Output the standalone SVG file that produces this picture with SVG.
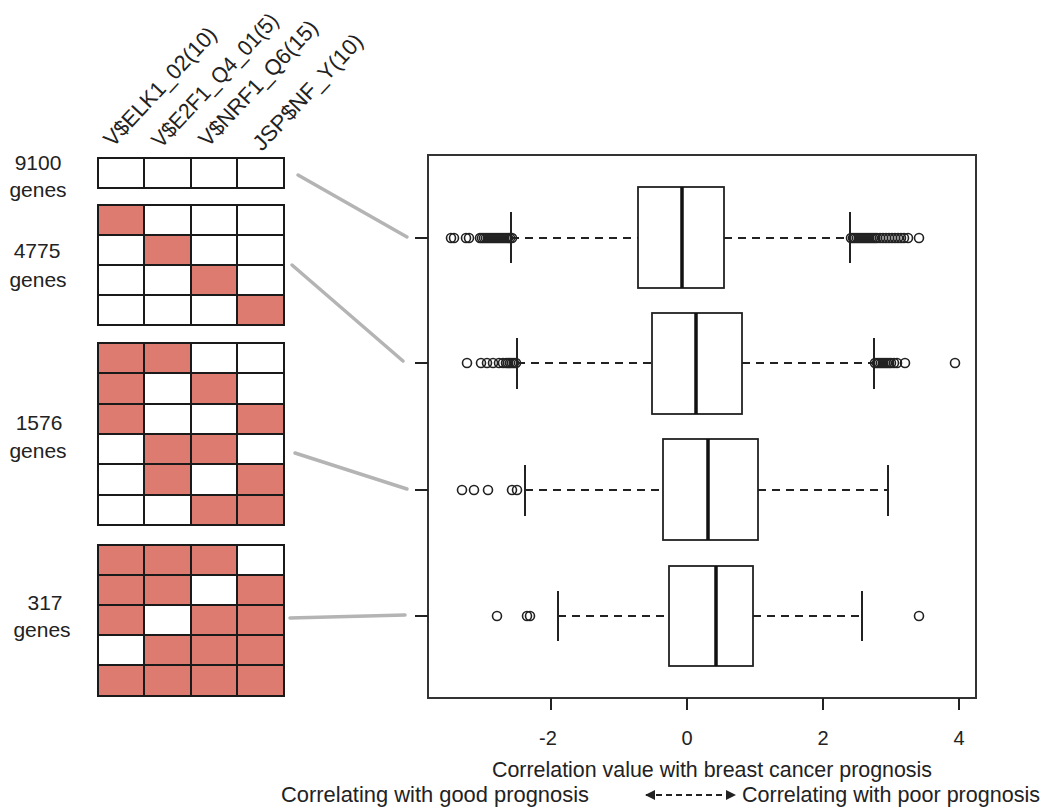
<svg xmlns="http://www.w3.org/2000/svg" width="1052" height="810" viewBox="0 0 1052 810">
<style>
text{font-family:"Liberation Sans",Arial,sans-serif;fill:#222}
.lab{font-size:21px;text-anchor:middle}
.col{font-size:22px}
.on{fill:#DE7B70}
.grid{fill:none;stroke:#1a1a1a;stroke-width:2}
.conn{stroke:#b4b4b4;stroke-width:3.5;stroke-linecap:round;fill:none}
.frame{fill:none;stroke:#333;stroke-width:2}
.box{fill:#fff;stroke:#222;stroke-width:1.8}
.med{stroke:#111;stroke-width:3.5}
.wh{stroke:#222;stroke-width:2;stroke-dasharray:8 6}
.cap{stroke:#222;stroke-width:2}
.o{fill:none;stroke:#222;stroke-width:1.6}
.tick{stroke:#222;stroke-width:2}
.ax{font-size:20px;text-anchor:middle}
.cap2{font-size:22px}
</style>
<defs>
<marker id="ah" viewBox="0 0 10 10" refX="9" refY="5" markerWidth="10" markerHeight="10" markerUnits="userSpaceOnUse" orient="auto-start-reverse">
<path d="M0,0 L10,5 L0,10 z" fill="#222"/>
</marker>
</defs>
<rect width="1052" height="810" fill="#fff"/>

<g id="column-labels">
<text class="col" transform="translate(113,148) rotate(-47)" textLength="154" lengthAdjust="spacingAndGlyphs">V$ELK1_02(10)</text>
<text class="col" transform="translate(161,149) rotate(-47)" textLength="174" lengthAdjust="spacingAndGlyphs">V$E2F1_Q4_01(5)</text>
<text class="col" transform="translate(208,148) rotate(-47)" textLength="163" lengthAdjust="spacingAndGlyphs">V$NRF1_Q6(15)</text>
<text class="col" transform="translate(262,152) rotate(-47)" textLength="150" lengthAdjust="spacingAndGlyphs">JSP$NF_Y(10)</text>
</g>

<g id="block-9100">
<text class="lab" x="38" y="170">9100</text>
<text class="lab" x="38" y="197">genes</text>
<rect class="grid" x="98" y="158" width="186" height="30"/>
<path class="grid" d="M144,158V188M191,158V188M237,158V188"/>
</g>

<g id="block-4775">
<text class="lab" x="37" y="258">4775</text>
<text class="lab" x="38" y="287">genes</text>
<rect class="on" x="98" y="205" width="46" height="30"/>
<rect class="on" x="144" y="235" width="47" height="30"/>
<rect class="on" x="191" y="265" width="46" height="30"/>
<rect class="on" x="237" y="295" width="47" height="30"/>
<rect class="grid" x="98" y="205" width="186" height="120"/>
<path class="grid" d="M144,205V325M191,205V325M237,205V325M98,235H284M98,265H284M98,295H284"/>
</g>

<g id="block-1576">
<text class="lab" x="39" y="430">1576</text>
<text class="lab" x="38" y="458">genes</text>
<rect class="on" x="98" y="343" width="93" height="30"/>
<rect class="on" x="98" y="373" width="46" height="61"/>
<rect class="on" x="191" y="373" width="46" height="31"/>
<rect class="on" x="237" y="404" width="47" height="30"/>
<rect class="on" x="144" y="434" width="93" height="30"/>
<rect class="on" x="144" y="464" width="47" height="31"/>
<rect class="on" x="237" y="464" width="47" height="31"/>
<rect class="on" x="191" y="495" width="93" height="30"/>
<rect class="grid" x="98" y="343" width="186" height="182"/>
<path class="grid" d="M144,343V525M191,343V525M237,343V525M98,373H284M98,404H284M98,434H284M98,464H284M98,495H284"/>
</g>

<g id="block-317">
<text class="lab" x="45" y="610">317</text>
<text class="lab" x="42" y="637">genes</text>
<rect class="on" x="98" y="545" width="186" height="151"/>
<rect fill="#fff" x="237" y="545" width="47" height="30"/>
<rect fill="#fff" x="191" y="575" width="46" height="30"/>
<rect fill="#fff" x="144" y="605" width="47" height="30"/>
<rect fill="#fff" x="98" y="635" width="46" height="30"/>
<rect class="grid" x="98" y="545" width="186" height="151"/>
<path class="grid" d="M144,545V696M191,545V696M237,545V696M98,575H284M98,605H284M98,635H284M98,665H284"/>
</g>

<g id="connectors">
<line class="conn" x1="298" y1="175" x2="407" y2="237"/>
<line class="conn" x1="292" y1="265" x2="403" y2="361"/>
<line class="conn" x1="295" y1="453" x2="407" y2="489"/>
<line class="conn" x1="290" y1="618" x2="405" y2="615"/>
</g>

<g id="boxplot">
<rect class="frame" x="428" y="155" width="548" height="543"/>
<path class="tick" d="M415,238H428M415,363H428M415,490H428M415,616H428"/>
<path class="tick" d="M551,698V710M687,698V710M823,698V710M959,698V710"/>
<text class="ax" x="548" y="745">-2</text>
<text class="ax" x="687" y="745">0</text>
<text class="ax" x="823" y="745">2</text>
<text class="ax" x="959" y="745">4</text>

<!-- box 1 -->
<line class="wh" x1="511" y1="238" x2="638" y2="238"/>
<line class="wh" x1="724" y1="238" x2="850" y2="238"/>
<line class="cap" x1="511" y1="212" x2="511" y2="263"/>
<line class="cap" x1="850" y1="212" x2="850" y2="263"/>
<rect class="box" x="638" y="187" width="86" height="101"/>
<line class="med" x1="682" y1="187" x2="682" y2="288"/>
<g class="o">
<circle cx="451" cy="238" r="4.5"/><circle cx="454" cy="238" r="4.5"/>
<circle cx="466" cy="238" r="4.5"/><circle cx="469" cy="238" r="4.5"/>
<circle cx="480" cy="238" r="4.5"/><circle cx="482" cy="238" r="4.5"/><circle cx="484" cy="238" r="4.5"/><circle cx="486" cy="238" r="4.5"/><circle cx="488" cy="238" r="4.5"/><circle cx="490" cy="238" r="4.5"/><circle cx="492" cy="238" r="4.5"/><circle cx="494" cy="238" r="4.5"/><circle cx="496" cy="238" r="4.5"/><circle cx="498" cy="238" r="4.5"/><circle cx="500" cy="238" r="4.5"/><circle cx="502" cy="238" r="4.5"/><circle cx="504" cy="238" r="4.5"/><circle cx="506" cy="238" r="4.5"/><circle cx="508" cy="238" r="4.5"/><circle cx="510" cy="238" r="4.5"/><circle cx="512" cy="238" r="4.5"/>
<circle cx="851" cy="238" r="4.5"/><circle cx="853" cy="238" r="4.5"/><circle cx="855" cy="238" r="4.5"/><circle cx="857" cy="238" r="4.5"/><circle cx="859" cy="238" r="4.5"/><circle cx="861" cy="238" r="4.5"/><circle cx="863" cy="238" r="4.5"/><circle cx="865" cy="238" r="4.5"/><circle cx="867" cy="238" r="4.5"/><circle cx="869" cy="238" r="4.5"/><circle cx="871" cy="238" r="4.5"/><circle cx="873" cy="238" r="4.5"/><circle cx="875" cy="238" r="4.5"/><circle cx="877" cy="238" r="4.5"/><circle cx="880" cy="238" r="4.5"/><circle cx="883" cy="238" r="4.5"/><circle cx="886" cy="238" r="4.5"/><circle cx="889" cy="238" r="4.5"/><circle cx="892" cy="238" r="4.5"/><circle cx="895" cy="238" r="4.5"/><circle cx="898" cy="238" r="4.5"/><circle cx="901" cy="238" r="4.5"/><circle cx="904" cy="238" r="4.5"/><circle cx="908" cy="238" r="4.5"/><circle cx="919" cy="238" r="4.5"/>
</g>

<!-- box 2 -->
<line class="wh" x1="517" y1="363" x2="652" y2="363"/>
<line class="wh" x1="742" y1="363" x2="874" y2="363"/>
<line class="cap" x1="517" y1="338" x2="517" y2="389"/>
<line class="cap" x1="874" y1="338" x2="874" y2="389"/>
<rect class="box" x="652" y="313" width="90" height="101"/>
<line class="med" x1="696" y1="313" x2="696" y2="414"/>
<g class="o">
<circle cx="467" cy="363" r="4.5"/>
<circle cx="481" cy="363" r="4.5"/><circle cx="487" cy="363" r="4.5"/><circle cx="493" cy="363" r="4.5"/><circle cx="499" cy="363" r="4.5"/><circle cx="503" cy="363" r="4.5"/><circle cx="506" cy="363" r="4.5"/><circle cx="508" cy="363" r="4.5"/><circle cx="510" cy="363" r="4.5"/><circle cx="512" cy="363" r="4.5"/><circle cx="514" cy="363" r="4.5"/><circle cx="516" cy="363" r="4.5"/>
<circle cx="875" cy="363" r="4.5"/><circle cx="877" cy="363" r="4.5"/><circle cx="879" cy="363" r="4.5"/><circle cx="881" cy="363" r="4.5"/><circle cx="883" cy="363" r="4.5"/><circle cx="885" cy="363" r="4.5"/><circle cx="887" cy="363" r="4.5"/><circle cx="889" cy="363" r="4.5"/><circle cx="891" cy="363" r="4.5"/><circle cx="894" cy="363" r="4.5"/><circle cx="897" cy="363" r="4.5"/><circle cx="905" cy="363" r="4.5"/>
<circle cx="955" cy="363" r="4.5"/>
</g>

<!-- box 3 -->
<line class="wh" x1="525" y1="490" x2="663" y2="490"/>
<line class="wh" x1="758" y1="490" x2="888" y2="490"/>
<line class="cap" x1="525" y1="465" x2="525" y2="516"/>
<line class="cap" x1="888" y1="465" x2="888" y2="516"/>
<rect class="box" x="663" y="439" width="95" height="101"/>
<line class="med" x1="708" y1="439" x2="708" y2="540"/>
<g class="o">
<circle cx="462" cy="490" r="4.5"/><circle cx="474" cy="490" r="4.5"/><circle cx="488" cy="490" r="4.5"/><circle cx="512" cy="490" r="4.5"/><circle cx="517" cy="490" r="4.5"/>
</g>

<!-- box 4 -->
<line class="wh" x1="558" y1="616" x2="669" y2="616"/>
<line class="wh" x1="753" y1="616" x2="862" y2="616"/>
<line class="cap" x1="558" y1="591" x2="558" y2="641"/>
<line class="cap" x1="862" y1="591" x2="862" y2="641"/>
<rect class="box" x="669" y="566" width="84" height="100"/>
<line class="med" x1="716" y1="566" x2="716" y2="666"/>
<g class="o">
<circle cx="497" cy="616" r="4.5"/><circle cx="527" cy="616" r="4.5"/><circle cx="530" cy="616" r="4.5"/><circle cx="919" cy="616" r="4.5"/>
</g>
</g>

<g id="captions">
<text class="cap2" x="492" y="777" textLength="440" lengthAdjust="spacingAndGlyphs">Correlation value with breast cancer prognosis</text>
<text class="cap2" x="281" y="802" textLength="308" lengthAdjust="spacingAndGlyphs">Correlating with good prognosis</text>
<line x1="646" y1="795" x2="735" y2="795" stroke="#222" stroke-width="2" stroke-dasharray="6 4" marker-start="url(#ah)" marker-end="url(#ah)"/>
<text class="cap2" x="742" y="802" textLength="298" lengthAdjust="spacingAndGlyphs">Correlating with poor prognosis</text>
</g>
</svg>
